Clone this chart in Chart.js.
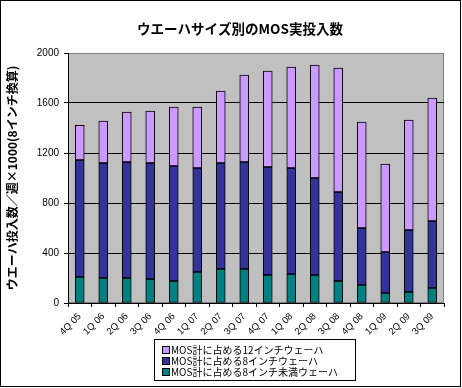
<!DOCTYPE html>
<html>
<head>
<meta charset="utf-8">
<script src="https://cdn.jsdelivr.net/npm/chart.js@4"></script>
<style>
  body { margin: 0; background: #fff; }
</style>
</head>
<body>
<canvas id="waferChart" width="462" height="388"></canvas>
<script>
var quarters = ["4Q 05", "1Q 06", "2Q 06", "3Q 06", "4Q 06", "1Q 07", "2Q 07", "3Q 07",
                "4Q 07", "1Q 08", "2Q 08", "3Q 08", "4Q 08", "1Q 09", "2Q 09", "3Q 09"]
var under8Inch = [208, 200, 200, 192, 176, 248, 272, 272, 224, 232, 224, 176, 144, 80, 88, 120]
var eightInch = [936, 920, 928, 928, 920, 832, 848, 856, 864, 848, 776, 712, 456, 328, 496, 536]
var twelveInch = [277, 336, 400, 416, 472, 488, 576, 696, 768, 808, 904, 992, 848, 704, 880, 984]
var yTicks = [0, 400, 800, 1200, 1600, 2000]
var chartTitle = "ウエーハサイズ別のMOS実投入数"

var jpFont = "'Noto Sans CJK JP', sans-serif"
var numFont = "'Liberation Sans', sans-serif"

// gray plot area, outer frame and the title (centred like the original, not on the canvas)
var frame = {
  id: 'frame',
  beforeDraw(chart) {
    var ctx = chart.ctx, a = chart.chartArea
    ctx.save()
    ctx.fillStyle = '#fff'
    ctx.fillRect(0, 0, chart.width, chart.height)
    ctx.fillStyle = '#C0C0C0'
    ctx.fillRect(a.left, a.top, a.right - a.left, a.bottom - a.top)
    ctx.strokeStyle = '#808080'
    ctx.lineWidth = 1
    ctx.strokeRect(a.left + 0.5, a.top + 0.5, a.right - a.left - 1, a.bottom - a.top - 1)
    ctx.restore()
  },
  afterDraw(chart) {
    var ctx = chart.ctx
    ctx.save()
    ctx.strokeStyle = '#000'
    ctx.lineWidth = 1
    ctx.strokeRect(0.5, 0.5, chart.width - 2, chart.height - 2)
    ctx.fillStyle = '#000'
    ctx.font = "bold 13.5px " + jpFont
    ctx.textAlign = 'center'
    ctx.textBaseline = 'middle'
    ctx.fillText(chartTitle, 240, 29)
    ctx.restore()
  }
}

// boxed legend, one item per row, top series first
var legendBox = {
  id: 'legendBox',
  afterDraw(chart) {
    var ctx = chart.ctx
    ctx.save()
    ctx.strokeStyle = '#000'
    ctx.lineWidth = 1
    ctx.strokeRect(154.5, 339.5, 201, 41)
    ctx.font = "10px " + jpFont
    ctx.textBaseline = 'middle'
    chart.data.datasets.slice().reverse().forEach((ds, i) => {
      var y = 350 + i * 11
      ctx.fillStyle = ds.backgroundColor
      ctx.fillRect(162, y - 3, 7, 7)
      ctx.strokeRect(162.5, y - 3.5, 7, 7)
      ctx.fillStyle = '#000'
      ctx.fillText(ds.label, 171, y + 0.5)
    })
    ctx.restore()
  }
}

new Chart(document.getElementById("waferChart"), {
  type: 'bar',
  data: {
    labels: quarters,
    datasets: [
      {
        label: "MOS計に占める8インチ未満ウェーハ",
        backgroundColor: "#008080",
        data: under8Inch
      },
      {
        label: "MOS計に占める8インチウェーハ",
        backgroundColor: "#333399",
        data: eightInch
      },
      {
        label: "MOS計に占める12インチウェーハ",
        backgroundColor: "#CC99FF",
        data: twelveInch
      }
    ]
  },
  options: {
    responsive: false,
    animation: false,
    layout: { padding: { top: 53, right: 18 } },
    datasets: {
      bar: {
        borderColor: "#000",
        borderWidth: 1,
        borderSkipped: false,
        barThickness: 9
      }
    },
    scales: {
      x: {
        stacked: true,
        afterFit(scale) { scale.height = 85 },
        grid: { drawOnChartArea: false, color: "#000", tickLength: 4 },
        border: { color: "#000" },
        ticks: {
          color: "#000",
          font: { family: numFont, size: 9.5 },
          minRotation: 45,
          maxRotation: 45,
          padding: 4,
          autoSkip: false
        }
      },
      y: {
        stacked: true,
        min: yTicks[0],
        max: yTicks[yTicks.length - 1],
        afterFit(scale) { scale.width = 68 },
        afterBuildTicks(scale) { scale.ticks = yTicks.map(v => ({ value: v })) },
        grid: {
          color: ctx => ctx.tick && ctx.tick.value === 2000 ? "#808080" : "#000",
          tickColor: "#000",
          tickLength: 4
        },
        border: { color: "#000" },
        ticks: {
          color: "#000",
          font: { family: numFont, size: 10 },
          padding: 5,
          callback: value => String(value)
        },
        title: {
          display: true,
          text: "ウエーハ投入数／週×1000(8インチ換算)",
          color: "#000",
          font: { family: jpFont, size: 12, weight: "bold" },
          padding: { top: 5, bottom: 0 }
        }
      }
    },
    plugins: {
      legend: { display: false },
      tooltip: { enabled: false },
      title: { display: false }
    }
  },
  plugins: [frame, legendBox]
});
</script>
</body>
</html>
